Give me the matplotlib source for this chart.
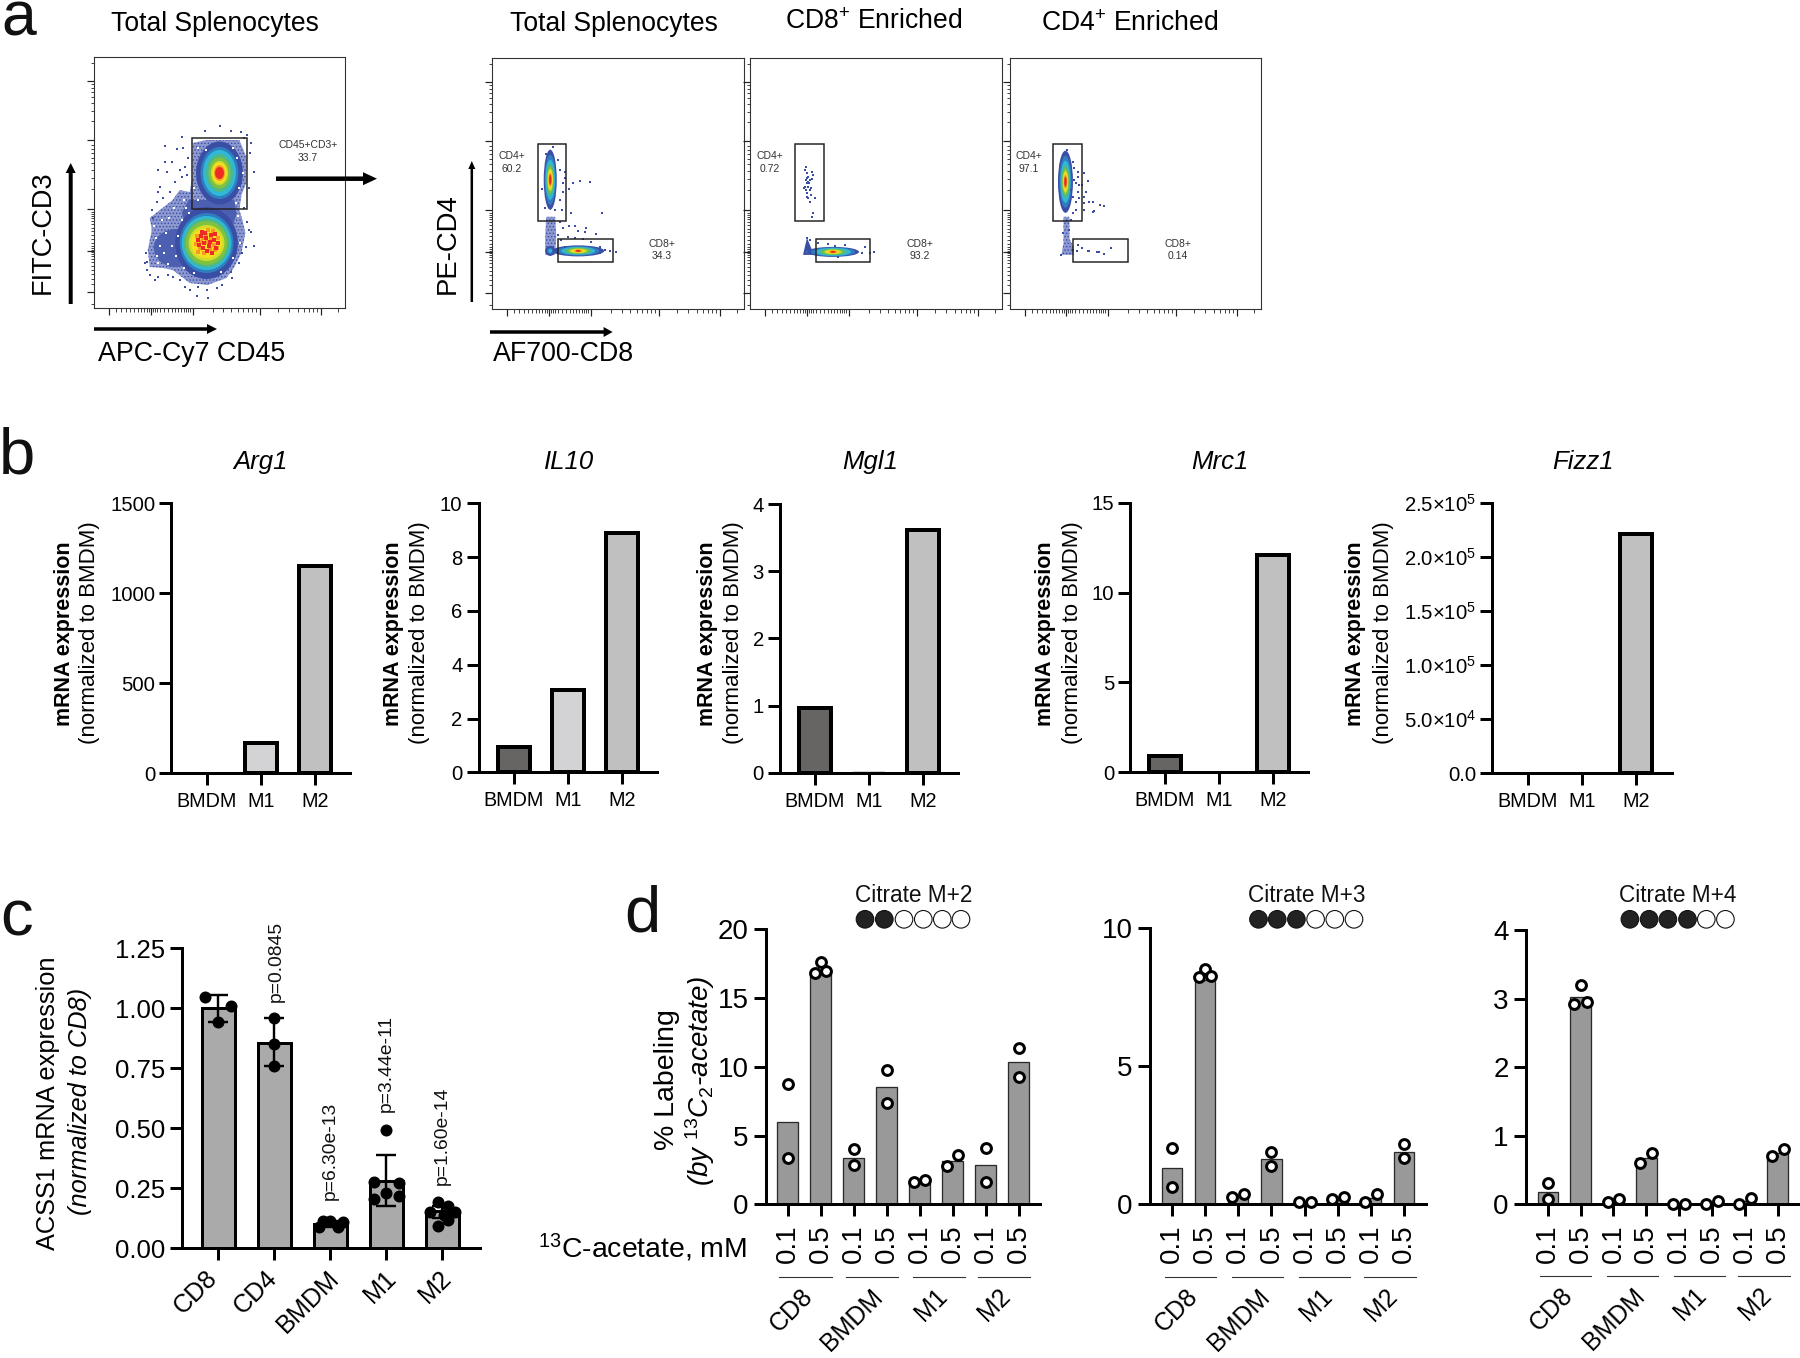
import numpy as np
import matplotlib
matplotlib.use("Agg")
import matplotlib.pyplot as plt
from matplotlib.patches import Circle, Ellipse, FancyArrow, Polygon, Rectangle

plt.rcParams['font.family'] = ['Liberation Sans', 'DejaVu Sans']
plt.rcParams['mathtext.fontset'] = 'custom'
plt.rcParams['mathtext.rm'] = 'Liberation Sans'
plt.rcParams['mathtext.it'] = 'Liberation Sans:italic'
plt.rcParams['mathtext.bf'] = 'Liberation Sans:bold'
plt.rcParams['mathtext.default'] = 'regular'
plt.rcParams['hatch.linewidth'] = 0.6

W, H = 1800, 1358
PX = 0.72  # one pixel in points at dpi 100

# ---- panel b data
B_CATS = ['BMDM', 'M1', 'M2']
ARG1 = [1, 170, 1150]
IL10 = [0.95, 3.05, 8.9]
MGL1 = [0.97, 0.02, 3.62]
MRC1 = [0.9, 0.03, 12.1]
FIZZ1 = [1, 10, 222000]
ARG1_TICKS = [0, 500, 1000, 1500]
IL10_TICKS = [0, 2, 4, 6, 8, 10]
MGL1_TICKS = [0, 1, 2, 3, 4]
MRC1_TICKS = [0, 5, 10, 15]
FIZZ1_TICKS = [0, 50000, 100000, 150000, 200000, 250000]
FIZZ1_LABELS = ['0.0', '5.0×10$^{4}$', '1.0×10$^{5}$', '1.5×10$^{5}$', '2.0×10$^{5}$', '2.5×10$^{5}$']

# ---- panel c data
C_CATS = ['CD8', 'CD4', 'BMDM', 'M1', 'M2']
C_MEANS = [1.0, 0.857, 0.10, 0.28, 0.155]
C_ERR_LOW = [0.945, 0.76, 0.09, 0.178, 0.125]
C_ERR_HIGH = [1.055, 0.958, 0.115, 0.389, 0.175]
C_POINTS = [[1.049, 1.011, 0.942],
            [0.958, 0.851, 0.761],
            [0.09, 0.115, 0.114, 0.09, 0.111],
            [0.493, 0.278, 0.271, 0.229, 0.204, 0.218],
            [0.194, 0.176, 0.153, 0.153, 0.118, 0.093, 0.14]]
C_JITTER = [[-0.24, 0.23, 0.0],
            [0.0, 0.0, 0.0],
            [-0.21, -0.13, 0.0, 0.14, 0.23],
            [0.0, -0.22, 0.22, 0.0, -0.22, 0.22],
            [-0.08, 0.1, -0.22, 0.22, 0.1, -0.08, 0.03]]
C_PVALS = ['', 'p=0.0845', 'p=6.30e-13', 'p=3.44e-11', 'p=1.60e-14']
C_PVAL_BOTTOM = [0, 1002, 1200, 1112, 1185]

# ---- panel d data
D_DOSES = ['0.1', '0.5'] * 4
D_GROUPS = ['CD8', 'BMDM', 'M1', 'M2']

M2_MEANS = [6.0, 16.9, 3.4, 8.5, 1.65, 3.18, 2.84, 10.33]
M2_POINTS = [[8.73, 3.39], [17.6, 16.85, 16.97], [4.0, 2.84], [9.77, 7.35],
             [1.65, 1.75], [2.81, 3.59], [4.1, 1.65], [11.39, 9.28]]
M3_MEANS = [1.33, 8.13, 0.31, 1.64, 0.07, 0.21, 0.24, 1.91]
M3_POINTS = [[2.05, 0.64], [8.53, 8.25, 8.27], [0.25, 0.37], [1.91, 1.4],
             [0.07, 0.07], [0.18, 0.25], [0.1, 0.37], [2.17, 1.69]]
M4_MEANS = [0.185, 3.02, 0.06, 0.67, 0.01, 0.03, 0.05, 0.755]
M4_POINTS = [[0.316, 0.078], [3.2, 2.93, 2.95], [0.04, 0.078], [0.6, 0.745],
             [0.0, 0.0], [0.005, 0.05], [0.005, 0.09], [0.7, 0.81]]
# sideways shift of the circles where points stack
M2_SHIFT = [[0, 0], [0, -0.17, 0.17], [0, 0], [0, 0], [-0.16, 0.17], [-0.17, 0.16], [0, 0], [0, 0]]
M3_SHIFT = [[0, 0], [0, -0.18, 0.18], [-0.18, 0.17], [0, 0], [-0.18, 0.18], [-0.18, 0.18], [-0.18, 0.18], [0, 0]]
M4_SHIFT = [[0, 0], [0, -0.19, 0.18], [-0.18, 0.17], [-0.18, 0.18], [-0.18, 0.18], [-0.18, 0.18], [-0.18, 0.18], [-0.18, 0.18]]

# ---- panel a data, in plot channels (0-252 across, 0-251 up)
FLOW_X_MAJOR = [15, 57, 99, 167, 227.5]
FLOW_X_MINOR = [22, 27, 32, 36, 40, 44, 47, 50, 53, 55, 59, 61, 63, 66, 70, 74, 78, 81, 84, 87, 90, 92, 94, 96,
                119, 130, 138, 145, 150, 155, 159, 163, 185, 196, 205, 211, 216, 220, 224, 245]
FLOW_Y_MAJOR = [16, 57, 99, 168, 227]
FLOW_Y_MINOR = [4, 24, 29, 34, 38, 42, 46, 49, 52, 54, 56, 58, 60, 62, 65, 69, 73, 77, 80, 84, 87, 90, 92, 94, 96,
                119, 130, 138, 145, 150, 155, 159, 163, 187, 197, 205, 211, 216, 220, 224, 245]

CD45_GATE = [98, 154, 99, 170]
CD4_GATES = [[45.5, 74, 88, 165], [45.3, 73.5, 88, 165], [44, 72.4, 88, 165]]
CD8_GATES = [[65.3, 120.4, 47, 70], [65.7, 120.3, 47, 70], [63.8, 119, 47, 70]]

SPLEN_OUTER_X = [99, 113, 146, 153, 153, 148, 146, 149, 152, 148, 141, 133, 114, 96, 79, 69, 56, 54, 58, 56, 66, 79, 86, 96, 99, 99]
SPLEN_OUTER_Y = [165, 168, 168, 151, 125, 113, 98, 88, 75, 55, 41, 30, 23, 25, 38, 40, 41, 58, 78, 90, 98, 108, 118, 116, 131, 151]
SPLEN_BRIDGE_X = [95, 141, 143, 140, 92, 88]
SPLEN_BRIDGE_Y = [108, 108, 94, 84, 84, 95]
SPLEN_LOBE = [82, 60, 44, 38]

SPLEN_TOP = [126, 135]
SPLEN_TOP_W = [47, 38, 33, 27, 22, 17, 14, 11, 9]
SPLEN_TOP_H = [63, 52, 46, 38, 31, 24, 20, 16, 12]
SPLEN_LOW = [113, 65]
SPLEN_LOW_W = [63, 54, 50, 46, 42, 36, 31]
SPLEN_LOW_H = [72, 60, 54, 49, 44, 36, 30]
SPLEN_RED_X = [104, 107, 110, 112, 115, 117, 120, 122, 109, 113, 118, 105, 121, 111, 116, 124, 108]
SPLEN_RED_Y = [68, 72, 65, 70, 62, 73, 68, 60, 60, 57, 55, 63, 74, 75, 66, 65, 76]
SPLEN_ORANGE_X = [102, 106, 109, 113, 117, 120, 124, 103, 107, 112, 116, 121, 110, 119, 104, 114, 123]
SPLEN_ORANGE_Y = [64, 60, 70, 66, 70, 63, 70, 72, 66, 73, 59, 58, 55, 77, 56, 78, 60]

SPLEN_DOT_X = [111, 126, 138, 148, 154, 151, 158, 161, 157, 156, 88, 71, 83, 89, 71, 78, 64, 73, 86, 81, 88, 91, 66, 76,
               64, 69, 63, 94, 93, 58, 59, 52, 53, 53, 56, 64, 74, 86, 96, 104, 113, 114, 103, 139, 149, 161, 158, 154,
               151, 156, 129, 138, 146, 153, 51, 61, 79, 91, 123]
SPLEN_DOT_Y = [177, 182, 177, 176, 173, 170, 165, 136, 155, 120, 171, 162, 159, 160, 146, 146, 138, 136, 138, 126, 131, 141, 121, 116,
               116, 110, 106, 150, 133, 98, 90, 55, 46, 38, 33, 31, 33, 28, 18, 21, 18, 10, 12, 30, 55, 62, 76, 86,
               100, 78, 23, 36, 45, 61, 45, 28, 31, 21, 20]
SPLEN_GAP_X = [62, 66, 70, 63, 72, 78, 60, 68, 75, 84, 82, 74, 90, 64, 80, 90, 95, 88, 100, 104, 143, 145, 146, 150, 144, 104, 112, 140, 147, 140, 128, 100, 92]
SPLEN_GAP_Y = [70, 62, 55, 52, 75, 62, 82, 88, 90, 72, 52, 44, 40, 45, 100, 108, 95, 88, 120, 108, 105, 92, 120, 135, 150, 160, 158, 160, 65, 50, 36, 35, 100]

CD4_P1 = [58, 129]
CD4_P1_W = [13, 11, 9.5, 8, 6.5, 5.5, 4.5, 3.5, 2.5]
CD4_P1_H = [60, 50, 40, 33, 27, 22, 18, 14, 10]
CD8_P1 = [86, 58]
CD8_P1_W = [52, 42, 34, 28, 22, 17, 12, 8, 5]
CD8_P1_H = [11, 9.5, 8, 7, 5.5, 4.5, 3.5, 3, 2]
TAIL_P1_X = [54, 63, 64, 63, 53, 53]
TAIL_P1_Y = [92, 92, 72, 54, 54, 72]
BLOB_P1 = [58, 58]
BLOB_P1_W = [10, 6, 3.5]
BLOB_P1_H = [10, 6, 3.5]
DOTS_P1_X = [61, 54, 73, 50, 77, 81, 88, 98, 79, 110, 71, 77, 83, 94, 86, 93, 104, 76, 83, 91, 99, 69, 66, 68, 70, 71, 71, 68, 53, 73, 66, 68, 63, 124, 118, 113, 108, 108, 73]
DOTS_P1_Y = [162, 155, 137, 120, 120, 126, 128, 127, 96, 96, 81, 83, 83, 81, 78, 77, 75, 72, 71, 70, 67, 69, 74, 87, 99, 126, 117, 109, 101, 131, 149, 139, 99, 57, 58, 59, 56, 62, 62]

CD8_P2 = [83, 57]
CD8_P2_W = [52, 44, 36, 28, 22, 17, 12, 8, 5]
CD8_P2_H = [10, 9, 8, 6.5, 5.5, 4.5, 3.5, 2.8, 2]
TRI_P2_X = [57, 64, 53]
TRI_P2_Y = [71, 54, 54]
BLOB_P2 = [58, 57]
BLOB_P2_W = [8, 4]
BLOB_P2_H = [5, 3]
DOTS_P2_X = [56, 55, 57, 62, 63, 58, 56, 60, 57, 59, 55, 58, 61, 56, 60, 57, 61, 65, 60, 58, 63, 62, 57, 54, 58, 62, 57, 78, 68, 85, 95, 120, 124, 115, 112, 88, 60, 57]
DOTS_P2_Y = [142, 139, 136, 137, 134, 132, 129, 129, 126, 126, 122, 122, 121, 119, 119, 116, 114, 111, 107, 111, 96, 92, 131, 121, 127, 130, 112, 65, 66, 63, 64, 56, 57, 62, 56, 52, 69, 71]

CD4_P3 = [56, 127]
CD4_P3_W = [15, 12, 10, 8.5, 7, 5.5, 4.5, 3.5, 2.5]
CD4_P3_H = [62, 52, 42, 33, 27, 22, 18, 14, 10]
TAIL_P3_X = [54, 60, 60, 64, 64, 52, 54]
TAIL_P3_Y = [92, 92, 70, 62, 54, 54, 66]
DOTS_P3_X = [58, 59, 64, 65, 69, 75, 79, 73, 77, 75, 80, 84, 75, 75, 85, 84, 91, 95, 69, 70, 67, 69, 64, 67, 67, 64, 62, 70, 65, 69, 68, 73, 79, 80, 88, 90, 95, 102, 64, 52, 54, 60, 62]
DOTS_P3_Y = [159, 154, 147, 141, 137, 136, 128, 124, 117, 112, 107, 107, 106, 99, 98, 97, 104, 103, 132, 124, 126, 117, 112, 107, 99, 96, 119, 111, 129, 64, 58, 61, 58, 58, 57, 57, 55, 61, 59, 54, 76, 79, 89]

DENSITY_COLORS = ['#3a4ea6', '#2f7fc0', '#2fb8d8', '#4db88a', '#7fc241', '#d4dc2a', '#f7e11e', '#f59a23', '#ee2a24']
BLUE_LIGHT = '#8d99d0'
BAR_B = ['#666564', '#d3d3d5', '#c0c0c0']

fig = plt.figure(figsize=(W / 100, H / 100), dpi=100, facecolor='white')


def px_axes(left, right, top, bottom):
    ax = fig.add_axes([left / W, 1 - bottom / H, (right - left) / W, (bottom - top) / H])
    ax.patch.set_visible(False)
    return ax


def bar_frame(ax, lw_px=3):
    ax.spines['top'].set_visible(False)
    ax.spines['right'].set_visible(False)
    ax.spines['left'].set_linewidth(lw_px * PX)
    ax.spines['bottom'].set_linewidth(lw_px * PX)
    ax.tick_params(width=lw_px * PX, length=12 * PX)


def flow_frame(ax):
    ax.set_xlim(0, 252)
    ax.set_ylim(0, 251)
    for s in ax.spines.values():
        s.set_linewidth(1.1 * PX)
        s.set_color('#333333')
    ax.set_xticks(FLOW_X_MAJOR)
    ax.set_yticks(FLOW_Y_MAJOR)
    ax.set_xticks(FLOW_X_MINOR, minor=True)
    ax.set_yticks(FLOW_Y_MINOR, minor=True)
    ax.set_xticklabels([])
    ax.set_yticklabels([])
    ax.tick_params(which='major', length=7 * PX, width=1.2 * PX, color='#222222')
    ax.tick_params(which='minor', length=3.5 * PX, width=0.9 * PX, color='#333333')


def density(ax, center, widths, heights):
    for i in range(len(widths)):
        ax.add_patch(Ellipse(center, widths[i], heights[i], fc=DENSITY_COLORS[i], ec='none'))


def sparse_area(ax, x, y):
    ax.add_patch(Polygon(np.column_stack([x, y]), fc=BLUE_LIGHT, ec=DENSITY_COLORS[0], hatch='.....', lw=0))


def gate(ax, box):
    ax.add_patch(Rectangle((box[0], box[2]), box[1] - box[0], box[3] - box[2], fc='none', ec='#222222', lw=1.5 * PX, zorder=5))


def dots(ax, x, y, color=DENSITY_COLORS[0], size=1.6):
    ax.scatter(x, y, s=size, marker='s', c=color, linewidths=0, zorder=3)


# ---- panel a
ax = px_axes(94, 345, 57, 308)
flow_frame(ax)
sparse_area(ax, SPLEN_OUTER_X, SPLEN_OUTER_Y)
dots(ax, SPLEN_GAP_X, SPLEN_GAP_Y, 'white', 2.4)
ax.add_patch(Ellipse(SPLEN_LOBE[:2], SPLEN_LOBE[2], SPLEN_LOBE[3], fc='#4d5fb0', ec='none'))
ax.add_patch(Polygon(np.column_stack([SPLEN_BRIDGE_X, SPLEN_BRIDGE_Y]), fc='#4d5fb0', ec='none'))
density(ax, SPLEN_LOW, SPLEN_LOW_W, SPLEN_LOW_H)
density(ax, SPLEN_TOP, SPLEN_TOP_W, SPLEN_TOP_H)
dots(ax, SPLEN_ORANGE_X, SPLEN_ORANGE_Y, DENSITY_COLORS[7], 5)
dots(ax, SPLEN_RED_X, SPLEN_RED_Y, DENSITY_COLORS[8], 5)
dots(ax, SPLEN_DOT_X, SPLEN_DOT_Y)
gate(ax, CD45_GATE)

# three CD4/CD8 plots
ax1 = px_axes(492.2, 744.3, 57.5, 309)
ax2 = px_axes(750, 1002, 57.5, 309)
ax3 = px_axes(1009.6, 1261, 57.5, 309)
for a in [ax1, ax2, ax3]:
    flow_frame(a)

sparse_area(ax1, TAIL_P1_X, TAIL_P1_Y)
density(ax1, BLOB_P1, BLOB_P1_W, BLOB_P1_H)
density(ax1, CD4_P1, CD4_P1_W, CD4_P1_H)
density(ax1, CD8_P1, CD8_P1_W, CD8_P1_H)
dots(ax1, DOTS_P1_X, DOTS_P1_Y)

ax2.add_patch(Polygon(np.column_stack([TRI_P2_X, TRI_P2_Y]), fc=DENSITY_COLORS[0], ec='none'))
density(ax2, BLOB_P2, BLOB_P2_W, BLOB_P2_H)
density(ax2, CD8_P2, CD8_P2_W, CD8_P2_H)
dots(ax2, DOTS_P2_X, DOTS_P2_Y)

sparse_area(ax3, TAIL_P3_X, TAIL_P3_Y)
density(ax3, CD4_P3, CD4_P3_W, CD4_P3_H)
dots(ax3, DOTS_P3_X, DOTS_P3_Y)

for i, a in enumerate([ax1, ax2, ax3]):
    gate(a, CD4_GATES[i])
    gate(a, CD8_GATES[i])


# ---- panel b
def expression_panel(title, title_x, values, ticks, ymax, spine, first, end, y_top, y_base, bold_x, reg_x, labels=None):
    spacing = 54
    ax = px_axes(spine, end, y_top, y_base)
    ax.set_xlim((spine - first) / spacing, (end - first) / spacing)
    ax.set_ylim(0, ymax)
    # bars that are flat on the axis get no outline
    widths = [4 * PX if v > ymax * 0.01 else 0 for v in values]
    ax.bar(range(3), values, width=0.6, color=BAR_B, edgecolor='black', linewidth=widths, clip_on=False, zorder=2)
    ax.set_xticks(range(3))
    ax.set_xticklabels(B_CATS, fontsize=14.2)
    ax.set_yticks(ticks)
    if labels is not None:
        ax.set_yticklabels(labels)
    ax.tick_params(axis='y', labelsize=14.6, pad=3)
    ax.tick_params(axis='x', pad=5)
    bar_frame(ax)
    notes.text(title_x, 462, title, fontsize=18.5, style='italic', ha='center', va='center')
    notes.text(bold_x, 634, 'mRNA expression', fontsize=15.5, fontweight='bold', rotation=90, ha='center', va='center')
    notes.text(reg_x, 633, '(normalized to BMDM)', fontsize=16, rotation=90, ha='center', va='center')
    return ax


notes = fig.add_axes([0, 0, 1, 1], zorder=20)
notes.set_xlim(0, W)
notes.set_ylim(H, 0)
notes.axis('off')

expression_panel('Arg1', 261, ARG1, ARG1_TICKS, 1500, 171.4, 206.7, 350, 503.3, 773.3, 64.7, 90)
expression_panel('IL10', 569, IL10, IL10_TICKS, 10, 478.6, 513.8, 657, 503.3, 772.3, 393, 420)
expression_panel('Mgl1', 870, MGL1, MGL1_TICKS, 4, 780, 815, 958, 504, 772.7, 707, 733)
expression_panel('Mrc1', 1219.6, MRC1, MRC1_TICKS, 15, 1130.4, 1165, 1308, 502.7, 772.3, 1046, 1072.8)
expression_panel('Fizz1', 1582.6, FIZZ1, FIZZ1_TICKS, 250000, 1492.4, 1527.7, 1671.9, 503.3, 773.3, 1355.8, 1383, FIZZ1_LABELS)

# ---- panel c
ax = px_axes(181.7, 480, 948.3, 1248.3)
ax.set_xlim((181.7 - 218.3) / 56, (480 - 218.3) / 56)
ax.set_ylim(0, 1.25)
ax.bar(range(5), C_MEANS, width=0.59, color='#aaaaaa', edgecolor='black', linewidth=3 * PX, zorder=2)
for i in range(5):
    ax.errorbar(i, C_MEANS[i], yerr=[[C_MEANS[i] - C_ERR_LOW[i]], [C_ERR_HIGH[i] - C_MEANS[i]]],
                color='black', elinewidth=2.4 * PX, capsize=10 * PX, capthick=2.4 * PX, zorder=3)
    ax.scatter(np.array(C_JITTER[i]) + i, C_POINTS[i], s=(12 * PX) ** 2, c='black', linewidths=0, zorder=4, clip_on=False)
    if C_PVALS[i]:
        notes.text(218.3 + 56 * i + (2 if i == 1 else 0), C_PVAL_BOTTOM[i], C_PVALS[i], rotation=90, fontsize=13.9,
                   ha='center', va='bottom', color='#111111')
ax.set_yticks([0, 0.25, 0.5, 0.75, 1.0, 1.25])
ax.set_yticklabels(['0.00', '0.25', '0.50', '0.75', '1.00', '1.25'], fontsize=18.5)
ax.set_xticks(range(5))
ax.set_xticklabels([])
ax.tick_params(axis='y', pad=3)
bar_frame(ax)
for x, t in zip([214, 274, 336, 393, 448], C_CATS):
    notes.text(x, 1274, t, fontsize=18.2, rotation=45, ha='right', va='center', rotation_mode='anchor')
notes.text(48, 1103, 'ACSS1 mRNA expression', rotation=90, fontsize=18.3, ha='center', va='center')
notes.text(80, 1101, '(normalized to CD8)', rotation=90, fontsize=18.3, style='italic', ha='center', va='center')


# ---- panel d
def citrate_panel(title, title_x, means, points, shift, ticks, ymax, spine, first, spacing, end, y_top, circle_x, n_filled, line_y, label_y, group_ends, group_lines):
    ax = px_axes(spine, end, y_top, 1204.3)
    ax.set_xlim((spine - first) / spacing, (end - first) / spacing)
    ax.set_ylim(0, ymax)
    ax.bar(range(8), means, width=0.62, color='#999999', edgecolor='#2a2a2a', linewidth=1.3 * PX, zorder=2)
    for i in range(8):
        ax.scatter(np.array(shift[i]) + i, points[i], s=50, facecolors='white', edgecolors='black',
                   linewidths=3 * PX, zorder=4, clip_on=False)
    ax.set_yticks(ticks)
    ax.set_xticks(range(8))
    ax.set_xticklabels(D_DOSES, rotation=90, fontsize=20)
    ax.tick_params(axis='y', labelsize=20, pad=4)
    ax.tick_params(axis='x', pad=6)
    bar_frame(ax)
    notes.text(title_x, 896, title, fontsize=16.3, ha='center', va='center', color='#111111')
    for i, cx in enumerate(circle_x):
        notes.add_patch(Circle((cx, 919.3), 8.8, fc='#222222' if i < n_filled else 'white', ec='#111111', lw=1.1 * PX))
    for i in range(4):
        notes.plot(group_lines[i], [line_y, line_y], color='#333333', lw=1.1 * PX)
        notes.text(group_ends[i] - 6, label_y, D_GROUPS[i], fontsize=18, rotation=45, ha='right', va='center', rotation_mode='anchor')


citrate_panel('Citrate M+2', 914, M2_MEANS, M2_POINTS, M2_SHIFT, [0, 5, 10, 15, 20], 20, 766, 787.7, 33, 1040, 929.3,
              [865, 884.3, 904, 923.3, 942.3, 961], 2, 1277, 1293, [815, 885, 950, 1013],
              [[779, 832], [846, 898], [913, 965], [978, 1030]])
citrate_panel('Citrate M+3', 1306.7, M3_MEANS, M3_POINTS, M3_SHIFT, [0, 5, 10], 10, 1150, 1171.9, 33.16, 1425.9, 928.3,
              [1258.5, 1277.2, 1296.4, 1315.6, 1334.8, 1354], 3, 1277, 1293, [1200, 1272, 1335, 1400],
              [[1164.7, 1216], [1231.7, 1283], [1298.7, 1350], [1364.3, 1415.6]])
citrate_panel('Citrate M+4', 1678, M4_MEANS, M4_POINTS, M4_SHIFT, [0, 1, 2, 3, 4], 4, 1526.3, 1547.8, 32.84, 1800, 930.3,
              [1629.9, 1649.1, 1667.9, 1687.5, 1706.3, 1725.4], 4, 1275.7, 1292, [1575, 1647, 1709, 1774],
              [[1539.7, 1591], [1606.7, 1658], [1673.7, 1725], [1738.4, 1789.7]])

notes.text(747, 1248, '$^{13}$C-acetate, mM', fontsize=20.4, ha='right', va='center')
notes.text(667, 1080, '% Labeling', rotation=90, fontsize=20.5, ha='center', va='center')
notes.text(700, 1081, r'(by $^{\mathit{13}}\mathit{C}_{\mathit{2}}$-acetate)', rotation=90, fontsize=20, style='italic', ha='center', va='center')

# ---- panel a text and arrows
for x, y, t in [(215, 24, 'Total Splenocytes'), (613.7, 24, 'Total Splenocytes'),
                (874, 22, 'CD8$^{+}$ Enriched'), (1130, 24, 'CD4$^{+}$ Enriched')]:
    notes.text(x, y, t, fontsize=19.1, ha='center', va='center')
notes.text(43, 232, 'FITC-CD3', rotation=90, fontsize=19.5, ha='center', va='center')
notes.text(192, 354, 'APC-Cy7 CD45', fontsize=19.3, ha='center', va='center')
notes.text(448, 244, 'PE-CD4', rotation=90, fontsize=19.8, ha='center', va='center')
notes.text(564, 354, 'AF700-CD8', fontsize=19.3, ha='center', va='center')
notes.text(308, 145, 'CD45+CD3+', fontsize=7.5, ha='center', va='center', color='#333333')
notes.text(308, 158, '33.7', fontsize=7.5, ha='center', va='center', color='#333333')

CD4_TEXT = ['60.2', '0.72', '97.1']
CD8_TEXT = ['34.3', '93.2', '0.14']
for x, t in zip([512, 770, 1029], CD4_TEXT):
    notes.text(x, 156, 'CD4+', fontsize=7.5, ha='center', va='center', color='#333333')
    notes.text(x, 169, t, fontsize=7.5, ha='center', va='center', color='#333333')
for x, t in zip([662, 920, 1178], CD8_TEXT):
    notes.text(x, 243.7, 'CD8+', fontsize=7.5, ha='center', va='center', color='#333333')
    notes.text(x, 256, t, fontsize=7.5, ha='center', va='center', color='#333333')

for x, y, dx, dy, w, hw, hl in [(70.7, 304, 0, -141, 4, 10, 10), (94, 329, 123, 0, 3.5, 10, 10), (276, 178.7, 101, 0, 4.5, 13, 14),
                                (471.8, 302, 0, -141, 2.5, 7, 8), (490, 332, 122.6, 0, 3.5, 10, 9)]:
    notes.add_patch(FancyArrow(x, y, dx, dy, width=w, head_width=hw, head_length=hl, length_includes_head=True, fc='black', ec='none'))

# panel letters
for x, y, t in [(1, 36, 'a'), (-1, 473, 'b'), (0, 935, 'c'), (624, 932, 'd')]:
    notes.text(x, y, t, fontsize=45 if t == 'a' else 47, ha='left', va='baseline', color='#111111')

fig.savefig('out.png', dpi=100)
